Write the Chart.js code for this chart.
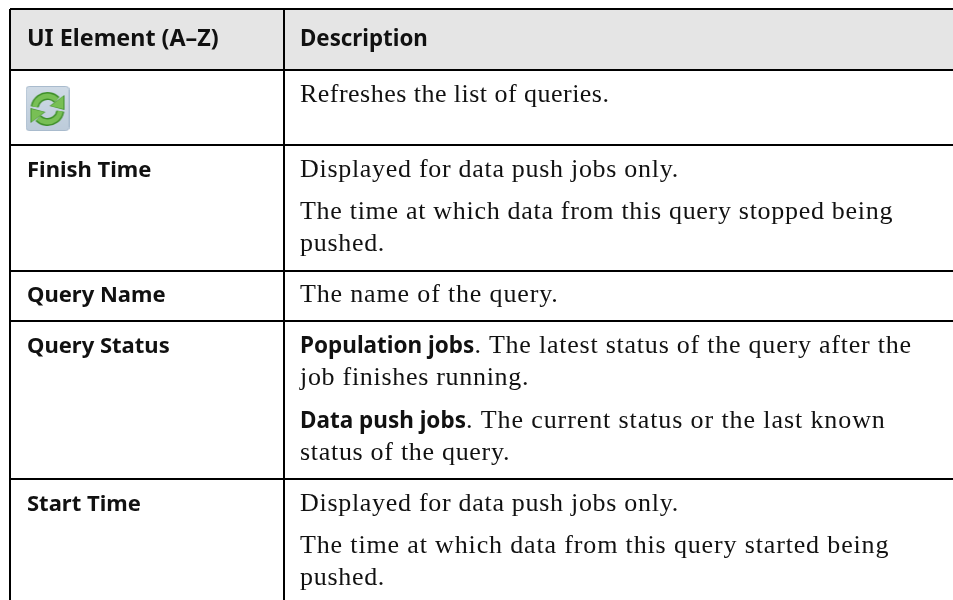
<!DOCTYPE html>
<html>
<head>
<meta charset="utf-8">
<style>
  html, body { margin: 0; padding: 0; background: #fff; }
  canvas { display: block; }
</style>
<script src="https://cdn.jsdelivr.net/npm/chart.js@4/dist/chart.umd.min.js"></script>
</head>
<body>
<canvas id="tableChart" width="953" height="600"></canvas>
<script>
const columnLabels = ['UI Element (A–Z)', 'Description'];
const uiElements = ['', 'Finish Time', 'Query Name', 'Query Status', 'Start Time'];
const refreshLines = [['', 'Refreshes the list of queries.']];
const finishLines = [
    ['', 'Displayed for data push jobs only.'],
    ['', 'The time at which data from this query stopped being'],
    ['', 'pushed.']
];
const nameLines = [['', 'The name of the query.']];
const statusLines = [
    ['Population jobs', '. The latest status of the query after the'],
    ['', 'job finishes running.'],
    ['Data push jobs', '. The current status or the last known'],
    ['', 'status of the query.']
];
const startLines = [
    ['', 'Displayed for data push jobs only.'],
    ['', 'The time at which data from this query started being'],
    ['', 'pushed.']
];

// table geometry, in page pixels along the two scales
const columnEdges = [10, 284];
const rowEdges = [9, 70, 145, 271, 321, 479];
const headerBaseline = 46;
const elementBaselines = [0, 177, 302, 353, 511];
const descBaselines = [[102], [177, 219, 251], [302], [353, 385, 428, 460], [511, 553, 585]];
const elementX = 27;
const descX = 300;

const HEADER_FONTS = ['bold 23.3px "Noto Sans"', 'bold 22.3px "Noto Sans"'];
const ELEMENT_FONT = 'bold 22px "Noto Sans"';
const LEAD_FONT = 'bold 22.5px "Noto Sans"';
const SERIF = '26px "Liberation Serif"';
// the reference face is not installed, so each line is spaced to end where it does there
const descSpacing = [[0.47], [0.7, 0.7, 0.7], [0.84], [0.77, 0.7, 0.9, 0.7], [0.7, 0.85, 0.7]];

// the refresh button, used as a point style
function makeRefreshIcon() {
    const c = document.createElement('canvas');
    c.width = 44;
    c.height = 45;
    const g = c.getContext('2d');
    const bg = g.createLinearGradient(0, 0, 0, 45);
    bg.addColorStop(0, '#d0dbe6');
    bg.addColorStop(1, '#bccbda');
    g.fillStyle = bg;
    g.strokeStyle = '#a9bbcd';
    g.beginPath();
    g.roundRect(0.5, 0.5, 43, 44, 3);
    g.fill();
    g.stroke();
    g.filter = 'blur(0.5px)';

    const drawArrows = (color, width, grow) => {
        g.strokeStyle = color;
        g.fillStyle = color;
        g.lineWidth = width;
        g.beginPath();
        g.arc(22, 23, 13, Math.PI * 1.05, Math.PI * 1.75);
        g.stroke();
        g.beginPath();
        g.arc(22, 23, 13, Math.PI * 0.05, Math.PI * 0.75);
        g.stroke();
        g.beginPath();
        g.moveTo(38 + grow, 10 - grow); g.lineTo(38 + grow, 23 + grow); g.lineTo(25 - grow, 20);
        g.closePath();
        g.fill();
        g.beginPath();
        g.moveTo(6 - grow, 36 + grow); g.lineTo(6 - grow, 23 - grow); g.lineTo(19 + grow, 26);
        g.closePath();
        g.fill();
    };
    drawArrows('#3f8f2a', 8, 1);
    drawArrows('#78bf55', 5, 0);
    return c;
}

const tableText = {
    id: 'tableText',
    afterDatasetsDraw(chart) {
        const ctx = chart.ctx;
        const x = chart.scales.x;
        const y = chart.scales.y;
        ctx.save();
        ctx.textBaseline = 'alphabetic';
        ctx.fillStyle = '#111';

        ctx.font = HEADER_FONTS[0];
        ctx.fillText(columnLabels[0], x.getPixelForValue(elementX), y.getPixelForValue(headerBaseline));
        ctx.font = HEADER_FONTS[1];
        ctx.fillText(columnLabels[1], x.getPixelForValue(descX), y.getPixelForValue(headerBaseline));
        ctx.font = ELEMENT_FONT;
        uiElements.forEach((label, i) => {
            if (label) ctx.fillText(label, x.getPixelForValue(elementX), y.getPixelForValue(elementBaselines[i]));
        });

        [refreshLines, finishLines, nameLines, statusLines, startLines].forEach((lines, r) => {
            lines.forEach(([lead, rest], i) => {
                let px = x.getPixelForValue(descX);
                const py = y.getPixelForValue(descBaselines[r][i]);
                if (lead) {
                    ctx.font = LEAD_FONT;
                    ctx.letterSpacing = '0px';
                    ctx.fillText(lead, px, py);
                    px += ctx.measureText(lead).width;
                }
                ctx.font = SERIF;
                ctx.letterSpacing = descSpacing[r][i] + 'px';
                ctx.fillText(rest, px, py);
                ctx.letterSpacing = '0px';
            });
        });
        ctx.restore();
    }
};

new Chart(document.getElementById('tableChart'), {
    type: 'scatter',
    data: {
        datasets: [
            {
                type: 'line',
                data: [{ x: columnEdges[0], y: rowEdges[1] }, { x: 953, y: rowEdges[1] }],
                fill: { value: rowEdges[0] },
                backgroundColor: '#e5e5e5',
                borderWidth: 0,
                pointRadius: 0
            },
            {
                data: [{ x: 47.5, y: 108.5 }],
                pointStyle: makeRefreshIcon(),
                pointRadius: 22
            }
        ]
    },
    plugins: [tableText],
    options: {
        responsive: false,
        animation: false,
        layout: { autoPadding: false, padding: { left: columnEdges[0], top: rowEdges[0], right: 0, bottom: 0 } },
        plugins: { legend: { display: false }, tooltip: { enabled: false } },
        scales: {
            x: {
                type: 'linear',
                min: columnEdges[0],
                max: 953,
                afterBuildTicks: axis => { axis.ticks = columnEdges.map(value => ({ value })); },
                ticks: { display: false },
                border: { display: false },
                grid: { color: '#000', lineWidth: 2, drawTicks: false, z: 1 }
            },
            y: {
                type: 'linear',
                reverse: true,
                min: rowEdges[0],
                max: 600,
                afterBuildTicks: axis => { axis.ticks = rowEdges.map(value => ({ value })); },
                ticks: { display: false },
                border: { display: false },
                grid: { color: '#000', lineWidth: 2, drawTicks: false, z: 1 }
            }
        }
    }
});
</script>
</body>
</html>
